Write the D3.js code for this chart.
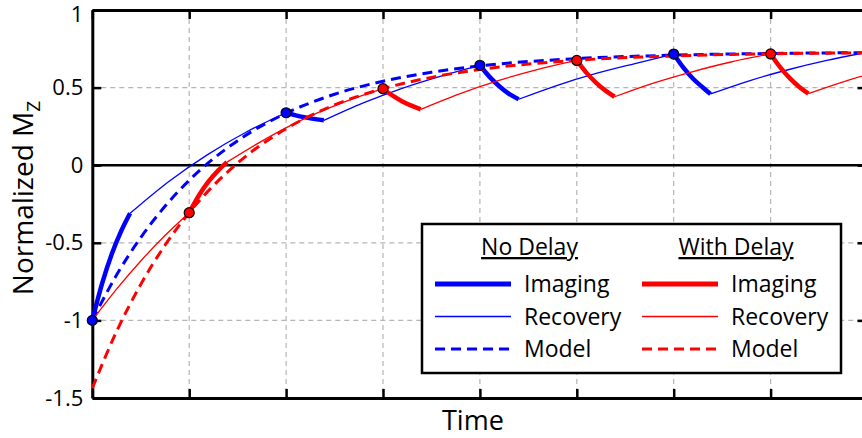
<!DOCTYPE html>
<html>
<head>
<meta charset="utf-8">
<script src="https://cdn.jsdelivr.net/npm/d3@7"></script>
<style>
  body { margin: 0; background: #fff; }
  svg { display: block; font-family: "Open Sans", sans-serif; }
</style>
</head>
<body>
<div id="chart"></div>
<script>
// tick positions and labels
var xTicks = [0, 1, 2, 3, 4, 5, 6, 7, 8];
var yTicks = [1, 0.5, 0, -0.5, -1, -1.5];
var yTickLabels = ["1", "0.5", "0", "-0.5", "-1", "-1.5"];

// no delay (blue)
var blueImaging = [
  [[0, -1], [0.1, -0.765], [0.2, -0.574], [0.3, -0.422], [0.39, -0.31]],
  [[2, 0.338], [2.1, 0.321], [2.2, 0.308], [2.3, 0.297], [2.39, 0.289]],
  [[4, 0.644], [4.1, 0.569], [4.2, 0.509], [4.3, 0.460], [4.4, 0.425]],
  [[6, 0.716], [6.1, 0.628], [6.2, 0.557], [6.3, 0.501], [6.38, 0.459]]
];
var blueRecovery = [
  [[0.39, -0.31], [0.79, -0.105], [1.19, 0.068], [1.59, 0.214], [2, 0.338]],
  [[2.39, 0.289], [2.79, 0.400], [3.19, 0.494], [3.59, 0.573], [4, 0.644]],
  [[4.4, 0.425], [4.8, 0.515], [5.2, 0.591], [5.6, 0.655], [6, 0.716]],
  [[6.38, 0.459], [6.78, 0.544], [7.18, 0.615], [7.58, 0.675], [8, 0.728]]
];
var blueModel = [[0, -1], [0.25, -0.708], [0.5, -0.466], [0.75, -0.265], [1, -0.097],
  [1.5, 0.158], [2, 0.335], [2.5, 0.457], [3, 0.541], [3.5, 0.599], [4, 0.640],
  [5, 0.687], [6, 0.709], [7, 0.720], [8, 0.725]];
var blueDots = [[0, -1], [2, 0.338], [4, 0.644], [6, 0.716]];

// with delay (red)
var redImaging = [
  [[1, -0.306], [1.1, -0.195], [1.2, -0.105], [1.3, -0.033], [1.39, 0.02]],
  [[3, 0.493], [3.1, 0.448], [3.2, 0.411], [3.3, 0.382], [3.39, 0.36]],
  [[5, 0.675], [5.1, 0.595], [5.2, 0.531], [5.3, 0.479], [5.39, 0.441]],
  [[7, 0.717], [7.1, 0.630], [7.2, 0.559], [7.3, 0.502], [7.39, 0.461]]
];
var redRecovery = [
  [[0, -1], [0.25, -0.799], [0.5, -0.617], [0.75, -0.453], [1, -0.306]],
  [[1.39, 0.02], [1.79, 0.17], [2.19, 0.30], [2.59, 0.405], [3, 0.493]],
  [[3.39, 0.36], [3.79, 0.460], [4.19, 0.545], [4.59, 0.616], [5, 0.675]],
  [[5.39, 0.441], [5.79, 0.529], [6.19, 0.602], [6.59, 0.665], [7, 0.717]],
  [[7.39, 0.461], [7.79, 0.545], [8, 0.584]]
];
var redModel = [[0, -1.437], [0.25, -1.072], [0.5, -0.768], [0.75, -0.516], [1, -0.306],
  [1.5, 0.014], [2, 0.235], [2.5, 0.388], [3, 0.493], [3.5, 0.566], [4, 0.617],
  [5, 0.676], [6, 0.704], [7, 0.718], [8, 0.724]];
var redDots = [[1, -0.306], [3, 0.493], [5, 0.675], [7, 0.717]];

var legendGroups = ["No Delay", "With Delay"];
var legendRows = ["Imaging", "Recovery", "Model"];

var width = 862, height = 438;
var plotLeft = 92.3, plotRight = 867.5, plotTop = 10, plotBottom = 398;

var svg = d3.select('#chart').append('svg')
  .attr('width', width)
  .attr('height', height);

var x = d3.scaleLinear().domain([0, 8]).range([plotLeft, plotRight]);
var y = d3.scaleLinear().domain([-1.5, 1]).range([plotBottom, plotTop]);

// grid
var grid = svg.append('g').attr('class', 'grid');
grid.selectAll('.vgrid')
  .data(xTicks.slice(1, -1)).enter()
  .append('line')
  .attr('x1', function (d) { return x(d); })
  .attr('x2', function (d) { return x(d); })
  .attr('y1', plotTop).attr('y2', plotBottom)
  .attr('stroke', '#b5b5b5').attr('stroke-width', 1.2)
  .attr('stroke-dasharray', '5,4');
grid.selectAll('.hgrid')
  .data(yTicks.filter(function (d) { return d != 1 && d != -1.5 && d != 0; })).enter()
  .append('line')
  .attr('x1', plotLeft).attr('x2', plotRight)
  .attr('y1', function (d) { return y(d); })
  .attr('y2', function (d) { return y(d); })
  .attr('stroke', '#b5b5b5').attr('stroke-width', 1.2)
  .attr('stroke-dasharray', '5,4');

// zero line
svg.append('line')
  .attr('x1', plotLeft).attr('x2', plotRight)
  .attr('y1', y(0)).attr('y2', y(0))
  .attr('stroke', '#000').attr('stroke-width', 2.5);

// axes, ticks pointing inward
function styleAxis(g) {
  g.select('.domain').attr('stroke', '#000').attr('stroke-width', 3);
  g.selectAll('.tick line').attr('stroke', '#000').attr('stroke-width', 2.5);
}
svg.append('g').attr('transform', 'translate(0,' + plotBottom + ')')
  .call(d3.axisBottom(x).tickValues(xTicks).tickSize(-9).tickSizeOuter(0).tickFormat(''))
  .call(styleAxis);
svg.append('g').attr('transform', 'translate(0,' + plotTop + ')')
  .call(d3.axisTop(x).tickValues(xTicks).tickSize(-9).tickSizeOuter(0).tickFormat(''))
  .call(styleAxis);
svg.append('g').attr('transform', 'translate(' + plotRight + ',0)')
  .call(d3.axisRight(y).tickValues(yTicks).tickSize(-10).tickSizeOuter(0).tickFormat(''))
  .call(styleAxis);
var yAxis = svg.append('g').attr('transform', 'translate(' + plotLeft + ',0)')
  .call(d3.axisLeft(y).tickValues(yTicks).tickSize(-9).tickSizeOuter(0).tickPadding(9)
    .tickFormat(function (d, i) { return yTickLabels[i]; }))
  .call(styleAxis);
yAxis.selectAll('text')
  .attr('fill', '#000')
  .style('font-family', '"Open Sans", sans-serif')
  .style('font-size', '22px');
// top label sits a little lower so it stays inside the picture
yAxis.selectAll('.tick')
  .filter(function (d) { return d == 1; })
  .select('text')
  .attr('y', 4);

// axis titles
svg.append('text')
  .attr('x', (plotLeft + plotRight) / 2 - 7)
  .attr('y', 430)
  .attr('text-anchor', 'middle')
  .style('font-size', '27px')
  .text('Time');
var ylab = svg.append('text')
  .attr('transform', 'translate(33,198) rotate(-90)')
  .attr('text-anchor', 'middle')
  .style('font-size', '28px');
ylab.append('tspan').text('Normalized M');
ylab.append('tspan').attr('dy', 7).style('font-size', '19px').text('Z');

// curves
var line = d3.line()
  .x(function (d) { return x(d[0]); })
  .y(function (d) { return y(d[1]); })
  .curve(d3.curveMonotoneX);

function drawSeries(segsImg, segsRec, model, color) {
  svg.append('g').selectAll('path')
    .data(segsRec).enter()
    .append('path')
    .attr('d', line)
    .attr('fill', 'none')
    .attr('stroke', color)
    .attr('stroke-width', 1.3);
  svg.append('path')
    .attr('d', line(model))
    .attr('fill', 'none')
    .attr('stroke', color)
    .attr('stroke-width', 3)
    .attr('stroke-dasharray', '10,6');
  svg.append('g').selectAll('path')
    .data(segsImg).enter()
    .append('path')
    .attr('d', line)
    .attr('fill', 'none')
    .attr('stroke', color)
    .attr('stroke-width', 4.5)
    .attr('stroke-linejoin', 'round');
}
drawSeries(blueImaging, blueRecovery, blueModel, '#0000ff');
drawSeries(redImaging, redRecovery, redModel, '#ff0000');

// sample points
function drawDots(data, color) {
  svg.append('g').selectAll('circle')
    .data(data).enter()
    .append('circle')
    .attr('cx', function (d) { return x(d[0]); })
    .attr('cy', function (d) { return y(d[1]); })
    .attr('r', 5)
    .attr('fill', color)
    .attr('stroke', '#000')
    .attr('stroke-width', 1.2);
}
drawDots(blueDots, '#0000ff');
drawDots(redDots, '#ff0000');

// legend
var legend = svg.append('g').attr('class', 'legend');
legend.append('rect')
  .attr('x', 422).attr('y', 224)
  .attr('width', 419).attr('height', 149)
  .attr('fill', '#fff')
  .attr('stroke', '#000')
  .attr('stroke-width', 2.5);

var cols = [
  { head: 529.5, x1: 435, x2: 511, tx: 524, color: '#0000ff' },
  { head: 736, x1: 642, x2: 718, tx: 731, color: '#ff0000' }
];
var rowY = [284, 316.5, 349];
var rowStyles = [
  { w: 5, dash: null },
  { w: 1.6, dash: null },
  { w: 3, dash: '10,6' }
];

cols.forEach(function (c, ci) {
  legend.append('text')
    .attr('x', c.head).attr('y', 255)
    .attr('text-anchor', 'middle')
    .style('font-size', '23px')
    .style('text-decoration', 'underline')
    .text(legendGroups[ci]);
  legendRows.forEach(function (r, ri) {
    legend.append('line')
      .attr('x1', c.x1).attr('x2', c.x2)
      .attr('y1', rowY[ri]).attr('y2', rowY[ri])
      .attr('stroke', c.color)
      .attr('stroke-width', rowStyles[ri].w)
      .attr('stroke-dasharray', rowStyles[ri].dash);
    legend.append('text')
      .attr('x', c.tx).attr('y', rowY[ri] + 8)
      .style('font-size', '23px')
      .text(r);
  });
});
</script>
</body>
</html>
